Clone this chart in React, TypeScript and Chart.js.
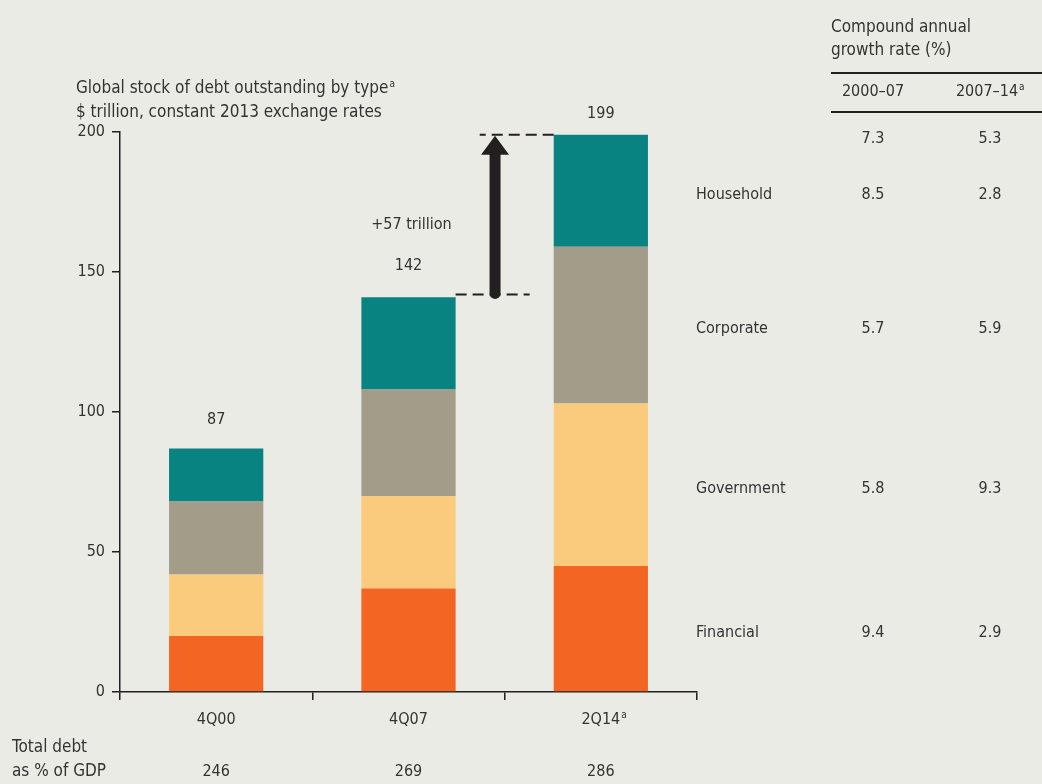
import React, { useEffect, useRef } from "react";
import { Chart, registerables } from "chart.js";
Chart.register(...registerables);

const categories = ["4Q00", "4Q07", "2Q14"];
const financial = [20, 37, 45];
const government = [22, 33, 58];
const corporate = [26, 38, 56];
const household = [19, 33, 40];
const totals = [87, 142, 199];
const gdpShare = [246, 269, 286];
const yTicks = [0, 50, 100, 150, 200];
const growthRows = ["", "Household", "Corporate", "Government", "Financial"];
const growth0007 = [7.3, 8.5, 5.7, 5.8, 9.4];
const growth0714 = [5.3, 2.8, 5.9, 9.3, 2.9];
const increaseLabel = "+57 trillion";

const FONT = "'Liberation Sans Narrow','DejaVu Sans Condensed','Arial Narrow',sans-serif";
const TEXT = "#333333";
const BG = "#ebebe6";

function fontStr(size: number) {
  return `${size}px ${FONT}`;
}

const overlayPlugin = {
  id: "overlay",
  beforeDraw(chart: any) {
    const ctx = chart.ctx;
    ctx.save();
    ctx.fillStyle = BG;
    ctx.fillRect(0, 0, chart.width, chart.height);
    ctx.restore();
  },
  afterDraw(chart: any) {
    const ctx: CanvasRenderingContext2D = chart.ctx;
    const xs = chart.scales.x;
    const ys = chart.scales.y;
    const topMeta = chart.getDatasetMeta(3);
    ctx.save();
    ctx.fillStyle = TEXT;
    ctx.textBaseline = "middle";

    // superscript helper
    const sup = (x: number, y: number) => {
      ctx.save();
      ctx.font = fontStr(10);
      ctx.textAlign = "left";
      ctx.fillText("a", x + 1, y - 5);
      ctx.restore();
    };

    // title
    ctx.font = fontStr(17);
    ctx.textAlign = "left";
    const t1 = "Global stock of debt outstanding by type";
    ctx.fillText(t1, 76, 89);
    sup(76 + ctx.measureText(t1).width, 89);
    ctx.font = fontStr(17);
    ctx.fillText("$ trillion, constant 2013 exchange rates", 76, 113);

    // totals above bars
    ctx.font = fontStr(16);
    ctx.textAlign = "center";
    totals.forEach((v, i) => {
      const el = topMeta.data[i];
      const yy = Math.max(ys.getPixelForValue(v) - 29, 114);
      ctx.fillText(String(v), el.x, yy);
    });
    // increase label
    const b1 = topMeta.data[1];
    ctx.fillText(increaseLabel, b1.x + 3, ys.getPixelForValue(totals[1]) - 70);

    // dashed guides and arrow
    const b2 = topMeta.data[2];
    const yLow = ys.getPixelForValue(totals[1]);
    const yHigh = ys.getPixelForValue(totals[2]);
    const arrowX = xs.getPixelForValue(1.45);
    ctx.strokeStyle = "#231f20";
    ctx.lineWidth = 2;
    ctx.setLineDash([11, 6]);
    ctx.beginPath();
    ctx.moveTo(b1.x + b1.width / 2, yLow);
    ctx.lineTo(b1.x + b1.width / 2 + 74, yLow);
    ctx.moveTo(b2.x - b2.width / 2, yHigh);
    ctx.lineTo(b2.x - b2.width / 2 - 74, yHigh);
    ctx.stroke();
    ctx.setLineDash([]);
    // shaft
    ctx.lineWidth = 11;
    ctx.lineCap = "round";
    ctx.beginPath();
    ctx.moveTo(arrowX, yLow - 1);
    ctx.lineTo(arrowX, yHigh + 18);
    ctx.stroke();
    ctx.lineCap = "butt";
    ctx.fillStyle = "#231f20";
    ctx.beginPath();
    ctx.moveTo(arrowX, yHigh + 1);
    ctx.lineTo(arrowX - 14, yHigh + 20);
    ctx.lineTo(arrowX + 14, yHigh + 20);
    ctx.closePath();
    ctx.fill();

    // superscript on last x label
    ctx.fillStyle = TEXT;
    ctx.font = fontStr(16);
    const lx = xs.getPixelForTick(2);
    const lw = ctx.measureText(categories[2]).width;
    sup(lx + lw / 2, 720);

    // bottom GDP row
    ctx.font = fontStr(17);
    ctx.textAlign = "left";
    ctx.fillText("Total debt", 12, 748);
    ctx.fillText("as % of GDP", 12, 772);
    ctx.font = fontStr(16);
    ctx.textAlign = "center";
    gdpShare.forEach((v, i) => {
      ctx.fillText(String(v), topMeta.data[i].x, 772);
    });

    // growth table
    const tL = 831;
    const tR = 1042;
    const c1 = 873;
    const c2 = 990;
    ctx.font = fontStr(17);
    ctx.textAlign = "left";
    ctx.fillText("Compound annual", tL, 28);
    ctx.fillText("growth rate (%)", tL, 51);
    ctx.strokeStyle = "#231f20";
    ctx.lineWidth = 2;
    ctx.beginPath();
    ctx.moveTo(tL, 73);
    ctx.lineTo(tR, 73);
    ctx.moveTo(tL, 112);
    ctx.lineTo(tR, 112);
    ctx.stroke();
    ctx.font = fontStr(16);
    ctx.textAlign = "center";
    ctx.fillText("2000\u201307", c1, 92);
    const h2 = "2007\u201314";
    ctx.fillText(h2, c2 - 3, 92);
    sup(c2 - 3 + ctx.measureText(h2).width / 2, 92);

    // rows aligned to last bar segments
    const last = categories.length - 1;
    const f = financial[last];
    const g = f + government[last];
    const c = g + corporate[last];
    const h = c + household[last];
    const rowVals = [h, (c + h) / 2, (g + c) / 2, (f + g) / 2, f / 2];
    ctx.font = fontStr(16);
    rowVals.forEach((v, i) => {
      const yy = ys.getPixelForValue(v) + 4;
      if (growthRows[i]) {
        ctx.textAlign = "left";
        ctx.fillText(growthRows[i], 696, yy);
      }
      ctx.textAlign = "center";
      ctx.fillText(growth0007[i].toFixed(1), c1, yy);
      ctx.fillText(growth0714[i].toFixed(1), c2, yy);
    });

    ctx.restore();
  },
};

export default function App() {
  const ref = useRef<HTMLCanvasElement | null>(null);
  useEffect(() => {
    document.body.style.margin = "0";
    document.body.style.background = BG;
    if (!ref.current) return;
    const axisColor = "#231f20";
    const chart = new Chart(ref.current, {
      type: "bar",
      data: {
        labels: categories,
        datasets: [
          { label: "Financial", data: financial, backgroundColor: "#f26522" },
          { label: "Government", data: government, backgroundColor: "#fbcb7d" },
          { label: "Corporate", data: corporate, backgroundColor: "#a39c88" },
          { label: "Household", data: household, backgroundColor: "#088382" },
        ],
      },
      options: {
        animation: false,
        responsive: false,
        maintainAspectRatio: false,
        datasets: { bar: { barPercentage: 0.49, categoryPercentage: 1 } },
        layout: { padding: { top: 132, right: 345, bottom: 0, left: 0 } },
        plugins: { legend: { display: false }, tooltip: { enabled: false } },
        scales: {
          x: {
            stacked: true,
            grid: {
              display: true,
              drawOnChartArea: false,
              drawTicks: true,
              tickLength: 8,
              color: axisColor,
              lineWidth: 1.5,
              offset: true,
            },
            border: { display: true, color: axisColor, width: 1.5 },
            ticks: {
              color: TEXT,
              font: { size: 16, family: FONT },
              padding: 10,
              maxRotation: 0,
            },
            afterFit: (s: any) => {
              s.height = 92;
            },
          },
          y: {
            stacked: true,
            min: 0,
            max: 200,
            afterBuildTicks: (s: any) => {
              s.ticks = yTicks.map((v) => ({ value: v }));
            },
            grid: {
              display: true,
              drawOnChartArea: false,
              drawTicks: true,
              tickLength: 8,
              color: axisColor,
              lineWidth: 1.5,
            },
            border: { display: true, color: axisColor, width: 1.5 },
            ticks: {
              color: TEXT,
              font: { size: 16, family: FONT },
              padding: 7,
            },
            afterFit: (s: any) => {
              s.width = 120;
            },
          },
        },
      },
      plugins: [overlayPlugin],
    } as any);
    return () => chart.destroy();
  }, []);
  return (
    <div style={{ position: "fixed", left: 0, top: 0, width: 1042, height: 784, background: BG }}>
      <canvas ref={ref} width={1042} height={784} style={{ display: "block", width: 1042, height: 784 }} />
    </div>
  );
}
